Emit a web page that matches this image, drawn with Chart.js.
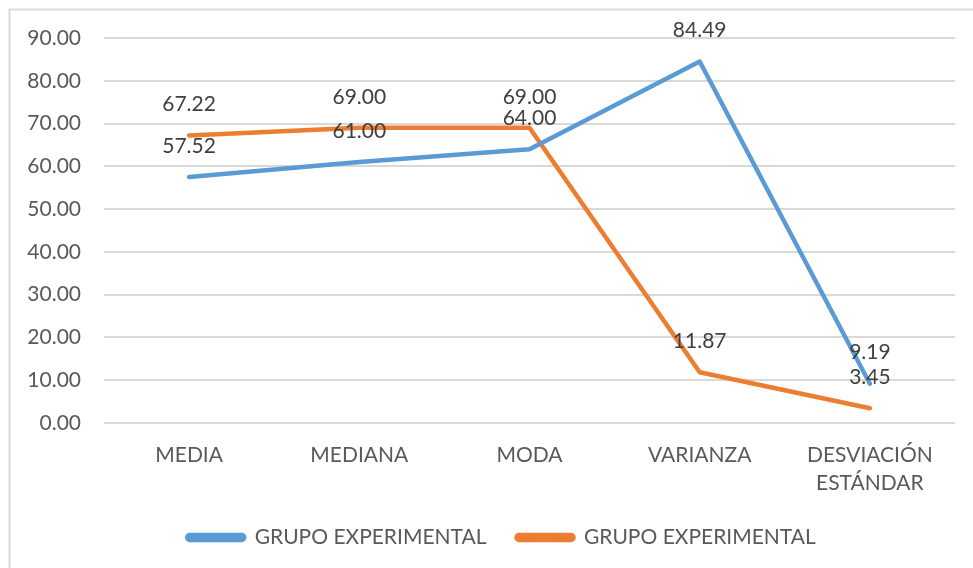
<!DOCTYPE html>
<html>
<head>
<meta charset="utf-8">
<script src="https://cdn.jsdelivr.net/npm/chart.js@4"></script>
<style>
html,body{margin:0;padding:0;background:#fff;}
#wrap{position:relative;width:973px;height:568px;}
</style>
</head>
<body>
<div id="wrap"><canvas id="c" width="973" height="568"></canvas></div>
<script>
const categories = ['MEDIA', 'MEDIANA', 'MODA', 'VARIANZA', ['DESVIACIÓN', 'ESTÁNDAR']];
const seriesNames = ['GRUPO EXPERIMENTAL', 'GRUPO EXPERIMENTAL'];
const blueValues = [57.52, 61.00, 64.00, 84.49, 9.19];
const orangeValues = [67.22, 69.00, 69.00, 11.87, 3.45];
const yTicks = [0, 10, 20, 30, 40, 50, 60, 70, 80, 90];

const FONT = 'Lato, "Open Sans", sans-serif';
const FS = 21;

const frame = {
  id: 'frame',
  beforeDraw(chart) {
    const ctx = chart.ctx;
    ctx.save();
    ctx.fillStyle = '#fff';
    ctx.fillRect(0, 0, chart.width, chart.height);
    ctx.strokeStyle = '#d9d9d9';
    ctx.lineWidth = 2;
    ctx.beginPath();
    ctx.moveTo(9.5, chart.height + 5);
    ctx.lineTo(9.5, 9.5);
    ctx.lineTo(chart.width + 5, 9.5);
    ctx.stroke();
    ctx.restore();
  }
};

const legendShift = {
  id: 'legendShift',
  afterLayout(chart) {
    const lg = chart.legend;
    if (lg) { lg.left += 24; lg.right += 24; }
  }
};

const dataLabels = {
  id: 'dataLabels',
  afterDatasetsDraw(chart) {
    const ctx = chart.ctx;
    ctx.save();
    ctx.font = FS + 'px ' + FONT;
    ctx.fillStyle = '#404040';
    ctx.textAlign = 'center';
    ctx.textBaseline = 'middle';
    chart.data.datasets.forEach((ds, i) => {
      const meta = chart.getDatasetMeta(i);
      meta.data.forEach((pt, j) => {
        ctx.fillText(ds.data[j].toFixed(2), pt.x, pt.y - 31);
      });
    });
    ctx.restore();
  }
};

new Chart(document.getElementById('c'), {
  type: 'line',
  data: {
    labels: categories,
    datasets: [
      {
        label: seriesNames[0],
        data: blueValues,
        borderColor: '#5b9bd5',
        backgroundColor: '#5b9bd5',
        borderWidth: 4.5,
        borderCapStyle: 'round',
        borderJoinStyle: 'round',
        pointRadius: 0,
        tension: 0
      },
      {
        label: seriesNames[1],
        data: orangeValues,
        borderColor: '#ed7d31',
        backgroundColor: '#ed7d31',
        borderWidth: 4.5,
        borderCapStyle: 'round',
        borderJoinStyle: 'round',
        pointRadius: 0,
        tension: 0
      }
    ]
  },
  options: {
    responsive: false,
    animation: false,
    devicePixelRatio: 1,
    layout: { padding: { left: 0, right: 18, top: 38, bottom: 10 } },
    plugins: {
      legend: {
        position: 'bottom',
        labels: {
          font: { family: FONT, size: FS },
          color: '#595959',
          boxWidth: 57,
          boxHeight: 5,
          useBorderRadius: true,
          borderRadius: 2.5,
          padding: 30
        }
      },
      tooltip: { enabled: false }
    },
    scales: {
      x: {
        offset: true,
        grid: { display: false, drawTicks: false },
        border: { display: false },
        ticks: {
          color: '#595959',
          font: { family: FONT, size: FS, lineHeight: 1.35 },
          padding: 18,
          maxRotation: 0,
          autoSkip: false
        },
        afterFit(scale) { scale.height = 74; }
      },
      y: {
        min: 0,
        max: 90,
        afterBuildTicks(scale) { scale.ticks = yTicks.map(v => ({ value: v })); },
        grid: { color: '#d9d9d9', lineWidth: 2, drawTicks: false },
        border: { display: false },
        ticks: {
          color: '#595959',
          font: { family: FONT, size: FS },
          padding: 23,
          callback: v => Number(v).toFixed(2)
        },
        afterFit(scale) { scale.width = 104; }
      }
    }
  },
  plugins: [frame, legendShift, dataLabels]
});
</script>
</body>
</html>
